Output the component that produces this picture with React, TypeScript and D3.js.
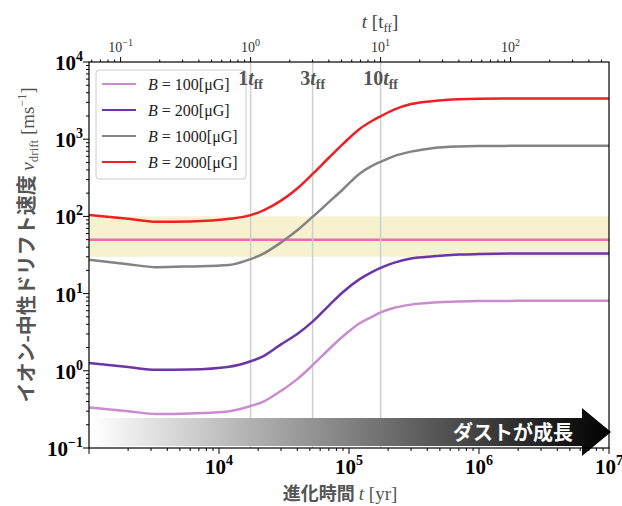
import React from "react";
import * as d3 from "d3";

// ---- data ----
const T_YR = [1e3, 2e3, 3.3e3, 6e3, 1.2e4, 1.75e4, 2.2e4, 3e4, 4e4, 5.3e4, 7e4, 9e4, 1.2e5, 1.5e5, 1.75e5, 2.2e5, 3e5, 4.5e5, 7e5, 1e6, 2e6, 1e7];
const V_B100 = [0.335, 0.3, 0.275, 0.28, 0.3, 0.35, 0.4, 0.55, 0.78, 1.2, 1.9, 2.8, 4.1, 5.0, 5.7, 6.5, 7.2, 7.65, 7.9, 8.0, 8.05, 8.05];
const V_B200 = [1.26, 1.12, 1.03, 1.04, 1.13, 1.33, 1.55, 2.2, 3.0, 4.4, 7.0, 10.5, 15.3, 19, 21.5, 25, 28.5, 30.5, 32, 32.5, 33, 33];
const V_B1000 = [27.5, 24, 22, 22.5, 23.5, 28, 33, 46, 66, 100, 153, 225, 355, 450, 510, 600, 690, 770, 805, 815, 820, 820];
const V_B2000 = [104, 93, 85, 86, 93, 104, 120, 160, 230, 360, 575, 870, 1350, 1720, 1980, 2400, 2850, 3130, 3300, 3350, 3370, 3370];
const SERIES_LABELS = ["100", "200", "1000", "2000"];
const SERIES_VALUES = [V_B100, V_B200, V_B1000, V_B2000];
const SERIES_COLORS = ["#c98ccd", "#6a36a8", "#838383", "#ee2026"];
const T_FF = 1.75e4; // yr
const TFF_MARKS = [1, 3, 10];
const BAND = [30, 100];
const REF_LINE = 50;
const X_DOMAIN = [1e3, 1e7];
const Y_DOMAIN = [0.1, 1e4];

const SERIF = '"Liberation Serif", "DejaVu Serif", "Times New Roman", serif';
const CJK = '"Noto Sans CJK JP", "Noto Sans", sans-serif';

const L = 89, R = 609, T = 62, B = 448;

const isMajor = (v: number) => Math.abs(Math.log10(v) - Math.round(Math.log10(v))) < 1e-6;
const expStr = (v: number) => {
  const e = Math.round(Math.log10(v));
  return e < 0 ? "\u2212" + Math.abs(e) : String(e);
};

export default function App() {
  const x = d3.scaleLog().domain(X_DOMAIN).range([L, R]);
  const y = d3.scaleLog().domain(Y_DOMAIN).range([B, T]);
  const xt = d3.scaleLog().domain([X_DOMAIN[0] / T_FF, X_DOMAIN[1] / T_FF]).range([L, R]);

  const line = d3
    .line<number>()
    .x((_, i) => x(T_YR[i]))
    .y((d) => y(d))
    .curve(d3.curveMonotoneX);

  const xTicks = x.ticks();
  const yTicks = y.ticks();
  const tTicks = xt.ticks();

  const arrowPath = `M${L + 4},418 L582,418 L582,408 L611,432 L582,456 L582,446 L${L + 4},446 Z`;

  return (
    <svg width={622} height={506} style={{ position: "absolute", left: 0, top: 0, background: "#fff" }}>
      <defs>
        <linearGradient id="dust" gradientUnits="userSpaceOnUse" x1={L + 4} y1={0} x2={611} y2={0}>
          <stop offset="0" stopColor="#ffffff" />
          <stop offset="1" stopColor="#000000" />
        </linearGradient>
      </defs>

      {/* band and reference line */}
      <rect x={L} y={y(BAND[1])} width={R - L} height={y(BAND[0]) - y(BAND[1])} fill="#f6f1cf" />
      <line x1={L} x2={R} y1={y(REF_LINE)} y2={y(REF_LINE)} stroke="#ee6aa8" strokeWidth={2.5} />

      {/* t_ff vertical lines */}
      {TFF_MARKS.map((m) => (
        <line key={m} x1={x(m * T_FF)} x2={x(m * T_FF)} y1={T} y2={B} stroke="#cfcfcf" strokeWidth={1.5} />
      ))}

      {/* curves */}
      {SERIES_VALUES.map((vals, i) => (
        <path key={i} d={line(vals) || ""} fill="none" stroke={SERIES_COLORS[i]} strokeWidth={2.5} />
      ))}

      {/* legend */}
      <rect x={96} y={70} width={150} height={109} rx={3} fill="#fff" fillOpacity={0.85} stroke="#cccccc" strokeWidth={1} />
      {SERIES_LABELS.map((lab, i) => {
        const ly = 84 + i * 26;
        return (
          <g key={lab}>
            <line x1={102} x2={136} y1={ly} y2={ly} stroke={SERIES_COLORS[i]} strokeWidth={2} />
            <text x={148} y={ly + 5.5} fontFamily={SERIF} fontSize={16} fill="#222">
              <tspan fontStyle="italic">B</tspan>
              <tspan>{" = " + lab + "[\u03bcG]"}</tspan>
            </text>
          </g>
        );
      })}

      {/* t_ff labels */}
      {TFF_MARKS.map((m) => (
        <text key={m} x={x(m * T_FF)} y={85} textAnchor="middle" fontFamily={SERIF} fontWeight="bold" fontSize={20} fill="#555">
          <tspan>{m}</tspan>
          <tspan fontStyle="italic">t</tspan>
          <tspan fontSize={14} dy={4}>ff</tspan>
        </text>
      ))}

      {/* dust growth arrow */}
      <path d={arrowPath} fill="url(#dust)" />
      <text x={573} y={440} textAnchor="end" fontFamily={CJK} fontWeight="bold" fontSize={20} fill="#fff">
        ダストが成長
      </text>

      {/* spines */}
      <rect x={L} y={T} width={R - L} height={B - T} fill="none" stroke="#000" strokeWidth={1.2} />

      {/* bottom axis */}
      {xTicks.map((v) => (
        <line key={"xb" + v} x1={x(v)} x2={x(v)} y1={B} y2={B + (isMajor(v) ? 6 : 3)} stroke="#000" strokeWidth={1} />
      ))}
      {xTicks.filter((v) => isMajor(v) && v > X_DOMAIN[0]).map((v) => (
        <text key={"xl" + v} x={x(v)} y={474} textAnchor="middle" fontFamily={SERIF} fontWeight="bold" fontSize={21} fill="#000">
          <tspan>10</tspan>
          <tspan fontSize={14} dy={-9}>{expStr(v)}</tspan>
        </text>
      ))}

      {/* left axis */}
      {yTicks.map((v) => (
        <line key={"yl" + v} x1={L} x2={L - (isMajor(v) ? 6 : 3)} y1={y(v)} y2={y(v)} stroke="#000" strokeWidth={1} />
      ))}
      {yTicks.filter((v) => isMajor(v)).map((v) => (
        <text key={"yt" + v} x={83} y={y(v) + 8} textAnchor="end" fontFamily={SERIF} fontWeight="bold" fontSize={21} fill="#000">
          <tspan>10</tspan>
          <tspan fontSize={14} dy={-9}>{expStr(v)}</tspan>
        </text>
      ))}

      {/* top axis */}
      {tTicks.map((v) => (
        <line key={"xt" + v} x1={xt(v)} x2={xt(v)} y1={T} y2={T - (isMajor(v) ? 5 : 2.5)} stroke="#000" strokeWidth={1} />
      ))}
      {tTicks.filter((v) => isMajor(v)).map((v) => (
        <text key={"tl" + v} x={xt(v)} y={52} textAnchor="middle" fontFamily={SERIF} fontSize={14} fill="#333">
          <tspan>10</tspan>
          <tspan fontSize={10} dy={-6}>{expStr(v)}</tspan>
        </text>
      ))}

      {/* titles */}
      <text x={380} y={28} textAnchor="middle" fontFamily={SERIF} fontSize={19} fill="#444">
        <tspan fontStyle="italic">t</tspan>
        <tspan>{" [t"}</tspan>
        <tspan fontSize={13} dy={4}>ff</tspan>
        <tspan dy={-4}>]</tspan>
      </text>

      <text x={340} y={500} textAnchor="middle" fill="#555">
        <tspan fontFamily={CJK} fontWeight="bold" fontSize={18}>進化時間 </tspan>
        <tspan fontFamily={SERIF} fontStyle="italic" fontSize={19}>t</tspan>
        <tspan fontFamily={SERIF} fontSize={19}>{" [yr]"}</tspan>
      </text>

      <text transform="translate(34,245) rotate(-90)" textAnchor="middle" fill="#555">
        <tspan fontFamily={CJK} fontWeight="bold" fontSize={20}>イオン-中性ドリフト速度 </tspan>
        <tspan fontFamily={SERIF} fontStyle="italic" fontSize={19}>v</tspan>
        <tspan fontFamily={SERIF} fontSize={13} dy={4}>drift</tspan>
        <tspan fontFamily={SERIF} fontSize={19} dy={-4}>{" [ms"}</tspan>
        <tspan fontFamily={SERIF} fontSize={12} dy={-8}>{"\u22121"}</tspan>
        <tspan fontFamily={SERIF} fontSize={19} dy={8}>]</tspan>
      </text>
    </svg>
  );
}
